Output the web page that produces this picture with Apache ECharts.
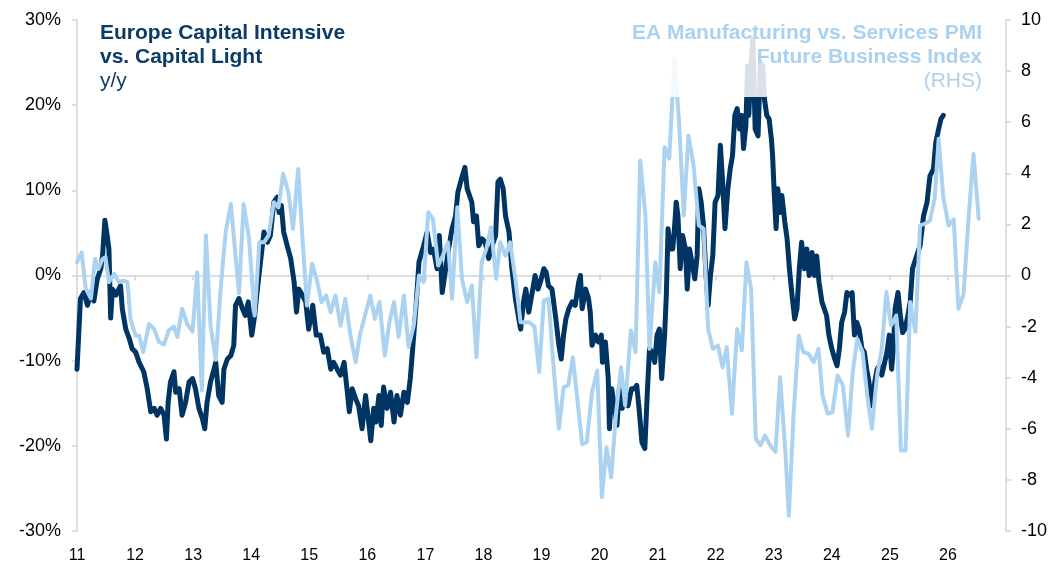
<!DOCTYPE html>
<html>
<head>
<meta charset="utf-8">
<script src="https://cdn.jsdelivr.net/npm/echarts@6/dist/echarts.min.js"></script>
<style>
html,body{margin:0;padding:0;background:#fff;}
#chart{width:1063px;height:569px;}
</style>
</head>
<body>
<div id="chart"></div>
<script>
// ---- Data ----
var yearTicks = ['11','12','13','14','15','16','17','18','19','20','21','22','23','24','25','26'];

// Europe Capital Intensive vs. Capital Light, y/y % (decimal year, value)
var capX = [2011.00,2011.06,2011.12,2011.18,2011.24,2011.29,2011.35,2011.41,2011.44,2011.48,2011.52,2011.55,2011.58,2011.61,2011.67,2011.72,2011.75,2011.78,2011.84,2011.90,2011.95,
2012.01,2012.07,2012.15,2012.21,2012.27,2012.33,2012.38,2012.44,2012.50,2012.54,2012.57,2012.61,2012.67,2012.70,2012.76,2012.81,2012.87,2012.93,2012.99,
2013.04,2013.10,2013.16,2013.20,2013.24,2013.30,2013.36,2013.39,2013.44,2013.50,2013.53,2013.59,2013.65,2013.70,2013.73,2013.79,2013.85,2013.90,2013.95,
2014.01,2014.06,2014.10,2014.16,2014.22,2014.28,2014.33,2014.39,2014.45,2014.48,2014.52,2014.56,2014.62,2014.68,2014.74,2014.78,2014.82,2014.88,2014.94,2014.99,
2015.06,2015.12,2015.19,2015.25,2015.31,2015.37,2015.42,2015.48,2015.54,2015.60,2015.65,2015.69,2015.74,2015.80,2015.85,2015.91,2015.97,
2016.01,2016.06,2016.11,2016.15,2016.20,2016.24,2016.28,2016.34,2016.40,2016.46,2016.51,2016.57,2016.63,2016.69,2016.74,2016.80,2016.84,2016.89,2016.92,2016.97,
2017.03,2017.09,2017.14,2017.20,2017.24,2017.29,2017.35,2017.40,2017.46,2017.52,2017.56,2017.62,2017.68,2017.72,2017.76,2017.80,2017.83,2017.88,2017.92,2017.98,
2018.03,2018.09,2018.15,2018.21,2018.25,2018.29,2018.34,2018.38,2018.44,2018.49,2018.55,2018.60,2018.64,2018.69,2018.73,2018.78,2018.84,2018.89,2018.94,2018.98,
2019.04,2019.08,2019.12,2019.18,2019.24,2019.30,2019.34,2019.38,2019.42,2019.47,2019.53,2019.58,2019.64,2019.67,2019.70,2019.76,2019.81,2019.84,2019.87,2019.93,2019.98,
2020.03,2020.05,2020.10,2020.15,2020.17,2020.21,2020.26,2020.30,2020.34,2020.39,2020.43,2020.49,2020.55,2020.60,2020.64,2020.68,2020.73,2020.78,2020.82,2020.86,2020.90,2020.95,2020.99,
2021.03,2021.07,2021.12,2021.15,2021.18,2021.22,2021.26,2021.29,2021.32,2021.35,2021.39,2021.43,2021.48,2021.51,2021.55,2021.59,2021.64,2021.68,2021.71,2021.75,2021.79,2021.83,2021.87,2021.91,2021.95,2021.99,
2022.04,2022.08,2022.12,2022.16,2022.21,2022.25,2022.29,2022.33,2022.37,2022.41,2022.45,2022.48,2022.52,2022.55,2022.57,2022.60,2022.64,2022.68,2022.73,2022.77,2022.81,2022.84,2022.88,2022.92,2022.96,2022.98,
2023.01,2023.04,2023.07,2023.11,2023.14,2023.19,2023.23,2023.27,2023.31,2023.36,2023.40,2023.44,2023.48,2023.53,2023.57,2023.61,2023.66,2023.70,2023.74,2023.78,2023.83,2023.87,2023.91,2023.95,
2024.00,2024.05,2024.09,2024.13,2024.17,2024.22,2024.26,2024.30,2024.35,2024.39,2024.43,2024.47,2024.52,2024.56,2024.60,2024.64,2024.69,2024.74,2024.78,2024.82,2024.86,2024.91,2024.95,2024.99,
2025.03,2025.06,2025.09,2025.14,2025.18,2025.22,2025.26,2025.31,2025.35,2025.39,2025.46,2025.52,2025.58,2025.64,2025.69,2025.75,2025.79,2025.84,2025.88,2025.92];
var capY = [-11,-2.7,-2,-3.5,-2,-3,-0.4,0.8,2.3,6.5,4.7,3.1,-5,-1.6,-2.3,-1.6,-1.2,-3.9,-6.3,-7.4,-8.6,
-9,-10.2,-11.3,-13.3,-16,-15.6,-16.4,-15.6,-16.4,-19.2,-14.9,-12.5,-11.3,-13.7,-13.3,-16.4,-14.9,-12.5,-12.1,
-13.3,-15.6,-16.8,-18,-14.9,-12.5,-11,-10.2,-14.1,-14.9,-11,-9.8,-9.4,-8.2,-3.5,-2.7,-3.9,-4.7,-3.1,
-7,-4.7,-2,1.6,5.1,3.9,4.7,8.6,9.2,7.4,8.2,5.1,3.5,2,-0.8,-4.3,-1.6,-2.3,-3.1,-6.3,
-3.5,-7,-7,-9,-8.6,-11,-10.2,-11,-11.7,-10.2,-13.3,-16,-13.3,-14.5,-15.3,-18,-14.1,
-16.4,-19.4,-15.6,-17.2,-14.1,-17.6,-13.1,-15.6,-13.7,-17.2,-14.1,-16.4,-13.7,-14.9,-12.1,-7,-3.5,1.6,2.3,3.5,
5.1,2.7,3.1,0.8,4.7,-2,0.8,3.1,5.5,7,9.8,11.3,12.7,10.2,9.4,8.6,6.3,7,3.5,4.3,
3.9,2,3.5,4.7,11,11.3,10.2,7,5.1,0.8,-2.7,-4.7,-6.3,-3.1,-1.6,-4.3,-2,0,-1.6,-0.8,
0.8,0.4,-1.2,-1.6,-4.7,-8.2,-9.8,-7,-5.1,-3.9,-3.1,-3.5,-0.8,0,-3.9,-1.6,-2.7,-4.3,-8.2,-7,-7.8,
-7,-10.2,-7.8,-12.1,-18,-13.3,-15.6,-17.6,-13.3,-15.6,-14.5,-15.3,-13.3,-13.3,-12.9,-15.6,-19.6,-20.3,-14.1,-8.6,-9,-10.2,-7,
-6.3,-12.1,-7,-2.3,5.5,3.1,3.1,5.5,8.6,7,0.8,4.7,3.1,-1.6,3.1,1.6,-0.4,2.3,10.2,8.6,5.9,0.4,-3.5,0,2.3,8.6,
9.4,15.3,11,5.5,10.2,12.5,14.1,18.8,19.6,17.2,18.8,14.9,17.6,24.6,18.8,23.5,27.8,17.2,16.4,25,24.6,20.7,18.8,18.4,16,14.1,
9.4,5.5,10.2,7.4,9.4,6.3,4.3,0.8,-2,-5.1,-3.9,0.8,3.9,0.8,3.1,0,2.7,0,2.3,-0.8,-3.1,-3.9,-4.7,-7,
-8.6,-9.8,-10.6,-8.6,-5.5,-4.3,-2,-2.3,-2,-7,-5.5,-6.3,-8.6,-9,-11,-12.5,-15.3,-12.5,-11,-10.6,-11.7,-10.2,-9,-7,
-11,-8.6,-3.9,-2,-4.7,-6.7,-6.3,-4.7,-3.1,0.8,2.3,3.5,7,8.6,11.7,12.5,15.6,17.2,18.4,18.8];

// EA Manufacturing vs. Services PMI Future Business Index (RHS)
var pmiX = [2011.00,2011.08,2011.15,2011.24,2011.31,2011.37,2011.44,2011.49,2011.55,2011.64,2011.72,2011.80,2011.87,2011.92,
2012.01,2012.07,2012.14,2012.24,2012.33,2012.41,2012.50,2012.58,2012.67,2012.73,2012.81,2012.90,2012.99,
2013.07,2013.15,2013.22,2013.30,2013.39,2013.47,2013.56,2013.65,2013.72,2013.79,2013.87,2013.96,
2014.06,2014.14,2014.22,2014.30,2014.39,2014.47,2014.55,2014.64,2014.72,2014.81,2014.88,2014.96,
2015.05,2015.14,2015.21,2015.29,2015.37,2015.45,2015.54,2015.62,2015.71,2015.80,2015.87,2015.96,
2016.05,2016.13,2016.21,2016.30,2016.38,2016.46,2016.54,2016.63,2016.71,2016.80,2016.89,2016.97,
2017.05,2017.13,2017.22,2017.30,2017.39,2017.46,2017.55,2017.63,2017.72,2017.80,2017.88,2017.97,
2018.05,2018.13,2018.22,2018.29,2018.38,2018.46,2018.55,2018.64,2018.72,2018.79,2018.88,2018.96,
2019.04,2019.12,2019.21,2019.30,2019.38,2019.46,2019.54,2019.62,2019.70,2019.78,2019.87,2019.96,
2020.04,2020.12,2020.20,2020.28,2020.37,2020.44,2020.54,2020.62,2020.70,2020.79,2020.86,2020.96,
2021.03,2021.12,2021.20,2021.29,2021.37,2021.45,2021.53,2021.62,2021.71,2021.79,2021.87,2021.95,
2022.04,2022.12,2022.19,2022.28,2022.37,2022.45,2022.53,2022.61,2022.69,2022.77,2022.85,2022.94,
2023.03,2023.11,2023.20,2023.26,2023.34,2023.43,2023.51,2023.60,2023.69,2023.77,2023.84,2023.93,
2024.01,2024.10,2024.19,2024.28,2024.36,2024.44,2024.53,2024.61,2024.69,2024.78,2024.86,2024.94,
2025.02,2025.11,2025.19,2025.27,2025.35,2025.44,2025.52,2025.60,2025.69,2025.77,2025.84,2025.92,
2026.01,2026.10,2026.18,2026.27,2026.35,2026.44,2026.53];
var pmiY = [0.52,0.9,-0.5,-0.9,0.65,0.26,0.65,0.72,-0.26,0.07,-0.26,-0.2,-0.26,-1.7,
-2.35,-2.35,-3.0,-1.9,-2.1,-2.6,-2.7,-2.15,-2.0,-2.4,-1.3,-1.9,-2.2,
0.13,-4.5,1.57,-1.96,-3.3,-0.65,1.7,2.8,1.04,-0.7,2.8,1.5,
-1.57,1.3,1.3,1.57,2.87,2.67,3.98,3.26,1.83,4.17,1.57,-1.17,
0.46,-0.26,-1.04,-0.78,-1.44,-0.78,-1.96,-0.91,-2.35,-3.4,-2.35,-1.57,
-0.78,-1.7,-1.04,-3.13,-1.83,-1.04,-2.4,-0.78,-2.8,-1.96,0,-0.26,
2.48,2.22,0.39,0.78,1.3,-0.91,2.67,-0.13,-1.04,-0.39,-3.2,0.52,
1.04,1.89,-0.13,1.3,0.78,1.3,-0.13,-1.83,-1.83,-1.83,-2.0,-3.78,
-0.98,-0.91,-3.65,-6.0,-4.37,-4.3,-3.2,-4.9,-6.6,-6.52,-4.57,-3.72,
-8.68,-6.72,-7.9,-5.48,-3.59,-5.09,-2.15,-3.0,4.5,2.35,-2.87,0.52,
-0.65,5.02,4.57,8.48,6.0,2.35,5.48,4.3,1.96,1.83,-2.09,-2.87,
-2.74,-3.59,-2.8,-5.41,-2.09,-2.93,0.52,-0.52,-6.39,-6.65,-6.26,-6.65,
-6.9,-3.98,-6.9,-9.4,-5.5,-2.35,-3.0,-3.07,-3.39,-2.87,-4.7,-5.41,
-5.35,-3.91,-4.3,-6.26,-3.78,-2.48,-3.0,-4.7,-6.0,-3.91,-2.87,-0.65,
-1.96,-1.57,-6.85,-6.85,-1.04,-2.2,1.96,2.02,2.15,3.0,5.35,3.07,
1.96,2.2,-1.3,-0.72,2.09,4.76,2.22];

var leftTicks = [-30,-20,-10,0,10,20,30];
var rightTicks = [-10,-8,-6,-4,-2,0,2,4,6,8,10];

// ---- Build ----
function zip(xs, ys){ var o=[]; for(var i=0;i<xs.length;i++) o.push([xs[i], ys[i]]); return o; }

var DARK = '#003462';
var LIGHT = '#abd3f1';
var TITLE_DARK = '#0b3b66';
var TITLE_LIGHT = '#aad2f0';
var AXIS_GRAY = '#d4d4d4';
var FONT = '"Liberation Sans", Arial, sans-serif';

var chart = echarts.init(document.getElementById('chart'), null, {renderer:'canvas'});
var option = {
  animation: false,
  backgroundColor: '#ffffff',
  grid: { left: 77, right: 57, top: 20, bottom: 38, containLabel: false },
  xAxis: [
    {
      type: 'value', min: 2011, max: 2027, interval: 1, position: 'bottom',
      axisLine: { show: false, onZero: false },
      axisTick: { show: false },
      splitLine: { show: false },
      axisLabel: {
        margin: 17, color: '#000',
        fontFamily: '"Liberation Sans Narrow", "Liberation Sans", Arial, sans-serif', fontSize: 16,
        formatter: function(v){ var i = Math.round(v) - 2011; return (i >= 0 && i < yearTicks.length) ? yearTicks[i] : ''; }
      }
    },
    {
      type: 'value', min: 2011, max: 2027, interval: 1, position: 'bottom',
      axisLine: { show: true, onZero: true, onZeroAxisIndex: 0, lineStyle: { color: AXIS_GRAY, width: 1.5 } },
      axisTick: { show: true, length: 5, lineStyle: { color: AXIS_GRAY, width: 1.5 } },
      axisLabel: { show: false },
      splitLine: { show: false }
    }
  ],
  yAxis: [
    {
      type: 'value', min: -30, max: 30, interval: 10, position: 'left',
      axisLine: { show: true, lineStyle: { color: AXIS_GRAY, width: 1.5 } },
      axisTick: { show: true, length: 5, lineStyle: { color: AXIS_GRAY, width: 1.5 } },
      splitLine: { show: false },
      axisLabel: { margin: 16, color: '#000', fontFamily: FONT, fontSize: 18,
        formatter: function(v){ return leftTicks.indexOf(v) >= 0 ? v + '%' : ''; } }
    },
    {
      type: 'value', min: -10, max: 10, interval: 2, position: 'right',
      axisLine: { show: true, lineStyle: { color: AXIS_GRAY, width: 1.5 } },
      axisTick: { show: true, length: 5, lineStyle: { color: AXIS_GRAY, width: 1.5 } },
      splitLine: { show: false },
      axisLabel: { margin: 15, color: '#000', fontFamily: FONT, fontSize: 18,
        formatter: function(v){ return rightTicks.indexOf(v) >= 0 ? String(v) : ''; } }
    }
  ],
  series: [
    {
      name: 'Europe Capital Intensive vs. Capital Light', type: 'line',
      xAxisIndex: 0, yAxisIndex: 0, data: zip(capX, capY),
      showSymbol: false, symbol: 'none', z: 2,
      lineStyle: { color: DARK, width: 5, cap: 'round', join: 'round' }
    },
    {
      name: 'EA Manufacturing vs. Services PMI Future Business Index', type: 'line',
      xAxisIndex: 0, yAxisIndex: 1, data: zip(pmiX, pmiY),
      showSymbol: false, symbol: 'none', z: 3,
      lineStyle: { color: LIGHT, width: 4, cap: 'round', join: 'round' }
    }
  ],
  graphic: [
    { type: 'rect', z: 50, silent: true, shape: { x: 96, y: 20, width: 262, height: 77 },
      style: { fill: 'rgba(255,255,255,0.85)' } },
    { type: 'rect', z: 50, silent: true, shape: { x: 618, y: 20, width: 370, height: 77 },
      style: { fill: 'rgba(255,255,255,0.85)' } },
    { type: 'text', z: 51, x: 100, y: 33.5,
      style: { text: 'Europe Capital Intensive', font: 'bold 21px ' + FONT, fill: TITLE_DARK, textAlign: 'left', textVerticalAlign: 'middle' } },
    { type: 'text', z: 51, x: 100, y: 57.5,
      style: { text: 'vs. Capital Light', font: 'bold 21px ' + FONT, fill: TITLE_DARK, textAlign: 'left', textVerticalAlign: 'middle' } },
    { type: 'text', z: 51, x: 100, y: 81.5,
      style: { text: 'y/y', font: '21px ' + FONT, fill: TITLE_DARK, textAlign: 'left', textVerticalAlign: 'middle' } },
    { type: 'text', z: 51, x: 982, y: 33.5,
      style: { text: 'EA Manufacturing vs. Services PMI', font: 'bold 21px ' + FONT, fill: TITLE_LIGHT, textAlign: 'right', textVerticalAlign: 'middle' } },
    { type: 'text', z: 51, x: 982, y: 57.5,
      style: { text: 'Future Business Index', font: 'bold 21px ' + FONT, fill: TITLE_LIGHT, textAlign: 'right', textVerticalAlign: 'middle' } },
    { type: 'text', z: 51, x: 982, y: 81.5,
      style: { text: '(RHS)', font: '21px ' + FONT, fill: TITLE_LIGHT, textAlign: 'right', textVerticalAlign: 'middle' } }
  ]
};
chart.setOption(option);
</script>
</body>
</html>
